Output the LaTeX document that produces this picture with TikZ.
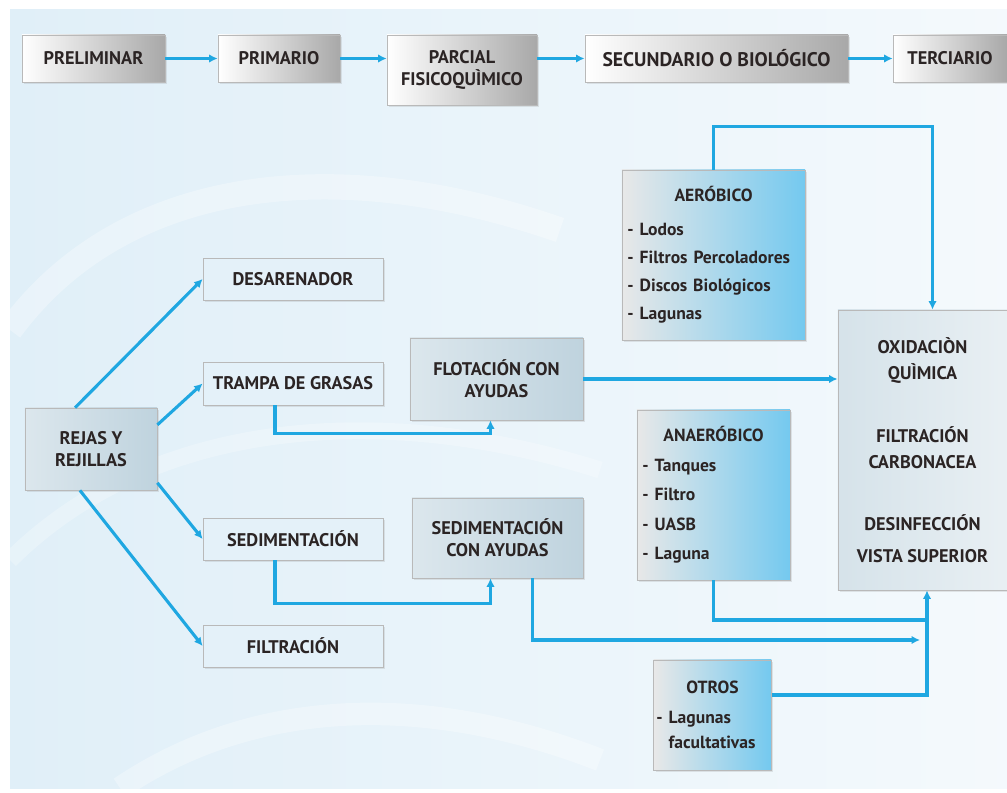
\documentclass[tikz,border=0pt]{standalone}
\usepackage{fontspec}
\setmainfont{PT Sans}
\usetikzlibrary{arrows.meta,calc,shadows}
\definecolor{tinta}{HTML}{2B2424}
\definecolor{azulinea}{HTML}{1FA7E1}
\definecolor{celeste}{HTML}{E4F1F9}
\definecolor{cielo}{HTML}{74C9EF}
\definecolor{acero}{HTML}{BFD3DE}
\definecolor{fondo}{HTML}{E0EFF8}

\begin{document}
\begin{tikzpicture}[x=0.025cm,y=-0.025cm,
  caja/.style={draw=gray!55,line width=0.5pt,text=tinta,align=center,inner sep=2pt,
    font=\bfseries\fontsize{13}{15.5}\selectfont,
    drop shadow={opacity=0.18,shadow xshift=1.5pt,shadow yshift=-1.5pt}},
  gris/.style={caja,left color=white,right color=black!34},
  clara/.style={caja,fill=celeste},
  acerada/.style={caja,left color=acero!55,right color=acero},
  azul/.style={caja,left color=gray!18,right color=cielo,font=\bfseries\fontsize{12.5}{20}\selectfont},
  tramo/.style={draw=azulinea,line width=2.2pt},
  flecha/.style={tramo,-{Latex[length=6pt,width=6pt]}}]
\useasboundingbox (0,0) rectangle (1007,793);
\fill[white] (0,0) rectangle (1007,793);
\shade[left color=fondo,right color=fondo!35] (10,10) rectangle (1007,788);
% remolinos del fondo
\draw[white,line width=18pt,opacity=0.3] (10,330) .. controls (120,180) and (330,150) .. (560,230);
\draw[white,line width=12pt,opacity=0.25] (10,560) .. controls (150,420) and (380,400) .. (600,470);
\draw[white,line width=16pt,opacity=0.3] (120,788) .. controls (250,700) and (420,690) .. (600,760);

% etapas
\node[gris,minimum width=3.58cm,minimum height=1.18cm] (prel) at (93.5,58.5) {PRELIMINAR};
\node[gris,minimum width=3.05cm,minimum height=1.18cm] (prim) at (279,58.5) {PRIMARIO};
\node[gris,minimum width=3.75cm,minimum height=1.75cm] (parc) at (462,70) {PARCIAL\\FISICOQUÌMICO};
\node[gris,minimum width=6.58cm,minimum height=1.18cm,font=\bfseries\fontsize{14}{16}\selectfont] (secu) at (716.5,58.5) {SECUNDARIO O BIOLÓGICO};
\node[gris,minimum width=2.85cm,minimum height=1.18cm] (terc) at (950,58.5) {TERCIARIO};

\draw[flecha] (prel) -- (prim);
\draw[flecha] (prim.east) -- (prim.east -| parc.west);
\draw[flecha] (parc.east |- secu.west) -- (secu.west);
\draw[flecha] (secu) -- (terc);

% preliminar y primario
\node[acerada,minimum width=3.3cm,minimum height=2.05cm] (reja) at (91,449) {REJAS Y\\REJILLAS};
\node[clara,minimum width=4.5cm,minimum height=1.05cm] (desa) at (293,279) {DESARENADOR};
\node[clara,minimum width=4.5cm,minimum height=1.07cm] (tram) at (293,383.5) {TRAMPA DE GRASAS};
\node[clara,minimum width=4.5cm,minimum height=1.05cm] (sedi) at (293,539) {SEDIMENTACIÓN};
\node[clara,minimum width=4.5cm,minimum height=1.05cm] (filt) at (293,646) {FILTRACIÓN};
\node[acerada,minimum width=4.33cm,minimum height=2.05cm] (flot) at (496.5,379) {FLOTACIÓN CON\\AYUDAS};
\node[acerada,minimum width=4.28cm,minimum height=2cm] (seda) at (497.5,538) {SEDIMENTACIÓN\\CON AYUDAS};

\draw[flecha] (reja.111) -- (desa.west);
\draw[flecha] (reja.20) -- (tram.west);
\draw[flecha] (reja.-27) -- (sedi.west);
\draw[flecha] (reja.-105) -- (filt.west);
\draw[flecha] ($(tram.south)+(-18,0)$) -- ++(0,28) -| ($(flot.south)+(-6,0)$);
\draw[flecha] ($(sedi.south)+(-18,0)$) -- ++(0,43) -| ($(seda.south)+(-7,0)$);

% secundario y terciario
\node[azul,minimum width=4.58cm,minimum height=4.25cm,text width=4.3cm,align=left] (aer) at (713.5,255)
  {\makebox[\linewidth]{AERÓBICO}\\[4pt]- Lodos\\- Filtros Percoladores\\- Discos Biológicos\\- Lagunas};
\node[azul,minimum width=3.83cm,minimum height=4.25cm,text width=3.55cm,align=left,
  font=\bfseries\fontsize{12.5}{21}\selectfont] (anae) at (713.5,495)
  {\makebox[\linewidth]{ANAERÓBICO}\\- Tanques\\- Filtro\\- UASB\\- Laguna};
\node[azul,minimum width=2.88cm,minimum height=2.75cm,text width=2.8cm,align=left,
  font=\bfseries\fontsize{12.5}{18}\selectfont] (otro) at (712.5,715)
  {\makebox[\linewidth]{OTROS}\\[3pt]- Lagunas\\\phantom{- }facultativas};
\node[caja,left color=acero!65,right color=acero!35,minimum width=4.23cm,minimum height=7cm,
  font=\bfseries\fontsize{13}{18.5}\selectfont] (oxi) at (922.5,450)
  {OXIDACIÒN\\QUÌMICA\\[26pt]FILTRACIÓN\\CARBONACEA\\[26pt]DESINFECCIÓN\\[4pt]VISTA SUPERIOR};

\coordinate (une1) at (927,620);
\coordinate (une2) at (920,640);
\draw[flecha] (aer.north) -- ++(0,-43) -| ($(oxi.north)+(10,0)$);
\draw[flecha] (flot.east) -- (flot.east -| oxi.west);
\draw[tramo] (anae.south) |- (une1);
\draw[flecha] ($(seda.south)+(35,0)$) |- (une2);
\draw[flecha] ($(otro.east)+(0,-20)$) -| ($(oxi.south)+(4.5,0)$);
\end{tikzpicture}
\end{document}
